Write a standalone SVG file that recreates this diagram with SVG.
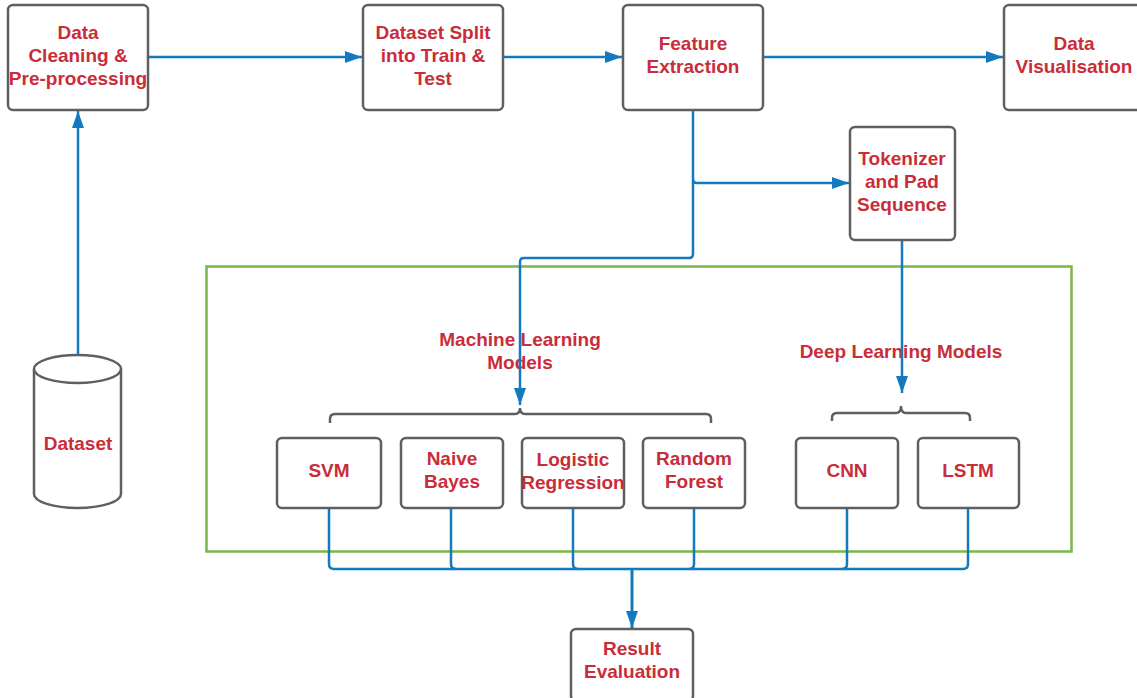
<svg xmlns="http://www.w3.org/2000/svg" width="1137" height="698" viewBox="0 0 1137 698">
<style>
.box{fill:#fff;stroke:#5f5f5f;stroke-width:2.5}
.t{font-family:"Liberation Sans",Arial,sans-serif;font-weight:bold;font-size:19px;fill:#c92d39;text-anchor:middle}
.c{fill:none;stroke:#1479bd;stroke-width:2.5;stroke-linejoin:round}
.br{fill:none;stroke:#5f5f5f;stroke-width:2.5}
.grp{fill:none;stroke:#7ab648;stroke-width:2.5}
</style>
<defs>
<marker id="ah" markerUnits="userSpaceOnUse" markerWidth="18" markerHeight="13" refX="17" refY="6.5" orient="auto">
<path d="M0,0.5 L17,6.5 L0,12.5 z" fill="#1479bd"/>
</marker>
</defs>
<rect width="1137" height="698" fill="#fff"/>
<g id="ml-group">
<rect class="grp" x="206.5" y="266.5" width="865" height="285"/>
<text class="t" x="520" y="346">Machine Learning</text>
<text class="t" x="520" y="369">Models</text>
<text class="t" x="901" y="358">Deep Learning Models</text>
<path class="br" d="M330,423 v-4 q0,-5 5,-5 h180 q5,0 5,-6 q0,6 5,6 h181 q5,0 5,5 v4"/>
<path class="br" d="M832,421 v-3 q0,-5 5,-5 h59 q5,0 5,-7 q0,7 5,7 h59 q5,0 5,5 v3"/>
</g>
<g id="connectors">
<path class="c" d="M78,355 V111" marker-end="url(#ah)"/>
<path class="c" d="M148,57 H362" marker-end="url(#ah)"/>
<path class="c" d="M503,57 H622" marker-end="url(#ah)"/>
<path class="c" d="M763,57 H1003" marker-end="url(#ah)"/>
<path class="c" d="M693,110 V179 q0,4 4,4 H849" marker-end="url(#ah)"/>
<path class="c" d="M693,180 V254 q0,4 -4,4 H524 q-4,0 -4,4 V405" marker-end="url(#ah)"/>
<path class="c" d="M902,240 V393" marker-end="url(#ah)"/>
<path class="c" d="M329,508 V564 q0,5 5,5 H963 q5,0 5,-5 V508"/>
<path class="c" d="M451,508 V564 q0,5 5,5"/>
<path class="c" d="M573,508 V564 q0,5 5,5"/>
<path class="c" d="M694,508 V564 q0,5 -5,5"/>
<path class="c" d="M847,508 V564 q0,5 -5,5"/>
<path class="c" d="M632,569 V628" style="stroke-width:3" marker-end="url(#ah)"/>
</g>
<g id="dataset">
<path class="box" d="M34,369 V494 A43.5,14 0 0 0 121,494 V369"/>
<ellipse class="box" cx="77.5" cy="369" rx="43.5" ry="14"/>
<text class="t" x="78" y="450">Dataset</text>
</g>
<g id="data-cleaning">
<rect class="box" x="8" y="5" width="140" height="105" rx="5"/>
<text class="t" x="78" y="39">Data</text>
<text class="t" x="78" y="62">Cleaning &amp;</text>
<text class="t" x="78" y="85">Pre-processing</text>
</g>
<g id="dataset-split">
<rect class="box" x="363" y="5" width="140" height="105" rx="5"/>
<text class="t" x="433" y="39">Dataset Split</text>
<text class="t" x="433" y="62">into Train &amp;</text>
<text class="t" x="433" y="85">Test</text>
</g>
<g id="feature-extraction">
<rect class="box" x="623" y="5" width="140" height="105" rx="5"/>
<text class="t" x="693" y="50">Feature</text>
<text class="t" x="693" y="73">Extraction</text>
</g>
<g id="data-visualisation">
<rect class="box" x="1004" y="5" width="140" height="105" rx="5"/>
<text class="t" x="1074" y="50">Data</text>
<text class="t" x="1074" y="73">Visualisation</text>
</g>
<g id="tokenizer">
<rect class="box" x="850" y="127" width="105" height="113" rx="5"/>
<text class="t" x="902" y="165">Tokenizer</text>
<text class="t" x="902" y="188">and Pad</text>
<text class="t" x="902" y="211">Sequence</text>
</g>
<g id="svm">
<rect class="box" x="277" y="438" width="104" height="70" rx="5"/>
<text class="t" x="329" y="477">SVM</text>
</g>
<g id="naive-bayes">
<rect class="box" x="401" y="438" width="102" height="70" rx="5"/>
<text class="t" x="452" y="465">Naive</text>
<text class="t" x="452" y="488">Bayes</text>
</g>
<g id="logistic-regression">
<rect class="box" x="522" y="438" width="102" height="70" rx="5"/>
<text class="t" x="573" y="466">Logistic</text>
<text class="t" x="573" y="489">Regression</text>
</g>
<g id="random-forest">
<rect class="box" x="643" y="438" width="102" height="70" rx="5"/>
<text class="t" x="694" y="465">Random</text>
<text class="t" x="694" y="488">Forest</text>
</g>
<g id="cnn">
<rect class="box" x="796" y="438" width="102" height="70" rx="5"/>
<text class="t" x="847" y="477">CNN</text>
</g>
<g id="lstm">
<rect class="box" x="918" y="438" width="101" height="70" rx="5"/>
<text class="t" x="968" y="477">LSTM</text>
</g>
<g id="result-evaluation">
<rect class="box" x="571" y="629" width="122" height="72" rx="5"/>
<text class="t" x="632" y="655">Result</text>
<text class="t" x="632" y="678">Evaluation</text>
</g>
</svg>
